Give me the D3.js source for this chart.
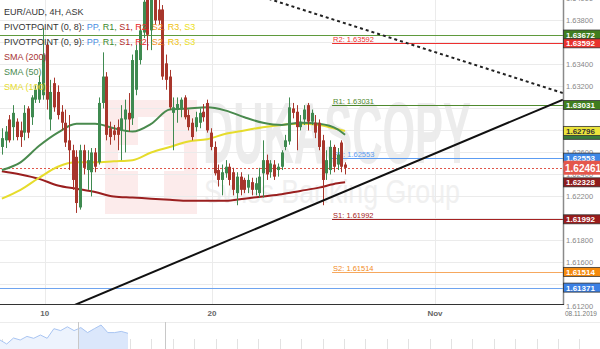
<!DOCTYPE html>
<html>
<head>
<meta charset="utf-8">
<script src="https://cdn.jsdelivr.net/npm/d3@7"></script>
<style>
body { margin: 0; background: #fff; }
svg { display: block; font-family: "Liberation Sans", Arial, sans-serif; }
</style>
</head>
<body>
<script>
// EUR/AUD 4H candles
var opens = [1.6265,1.6271,1.6290,1.6283,1.6288,1.6280,1.6278,1.6300,1.6292,1.6308,
  1.6308,1.6312,1.6358,1.6290,1.6323,1.6315,1.6297,1.6287,1.6271,1.6262,
  1.6256,1.6210,1.6262,1.6244,1.6242,1.6260,1.6251,1.6305,1.6329,1.6282,
  1.6280,1.6283,1.6280,1.6290,1.6296,1.6291,1.6317,1.6344,1.6369,1.6399,
  1.6371,1.6408,1.6390,1.6390,1.6341,1.6329,1.6296,1.6299,1.6299,1.6310,
  1.6294,1.6287,1.6283,1.6287,1.6297,1.6305,1.6278,1.6265,1.6244,1.6235,
  1.6241,1.6247,1.6242,1.6223,1.6238,1.6235,1.6228,1.6233,1.6226,1.6223,
  1.6241,1.6253,1.6242,1.6249,1.6244,1.6247,1.6265,1.6270,1.6300,1.6297,
  1.6283,1.6290,1.6303,1.6288,1.6287,1.6287,1.6271,1.6241,1.6244,1.6265,
  1.6249,1.6269,1.6249];
var highs = [1.6282,1.6284,1.6294,1.6303,1.6291,1.6288,1.6303,1.6302,1.6312,1.6321,
  1.6330,1.6373,1.6360,1.6326,1.6328,1.6321,1.6303,1.6299,1.6294,1.6267,
  1.6262,1.6267,1.6267,1.6262,1.6264,1.6264,1.6310,1.6351,1.6333,1.6288,
  1.6285,1.6290,1.6303,1.6308,1.6314,1.6349,1.6358,1.6376,1.6412,1.6417,
  1.6417,1.6421,1.6399,1.6394,1.6349,1.6335,1.6310,1.6310,1.6310,1.6312,
  1.6299,1.6291,1.6297,1.6300,1.6304,1.6308,1.6282,1.6270,1.6249,1.6249,
  1.6253,1.6250,1.6246,1.6242,1.6242,1.6237,1.6240,1.6237,1.6237,1.6246,
  1.6271,1.6258,1.6253,1.6253,1.6250,1.6262,1.6276,1.6310,1.6305,1.6303,
  1.6294,1.6303,1.6305,1.6299,1.6294,1.6290,1.6276,1.6262,1.6271,1.6267,
  1.6264,1.6271,1.6251];
var lows = [1.6258,1.6264,1.6269,1.6271,1.6271,1.6265,1.6271,1.6273,1.6285,1.6305,
  1.6305,1.6308,1.6299,1.6280,1.6297,1.6290,1.6280,1.6265,1.6244,1.6226,
  1.6205,1.6208,1.6240,1.6226,1.6220,1.6242,1.6249,1.6300,1.6271,1.6267,
  1.6271,1.6262,1.6253,1.6260,1.6279,1.6285,1.6312,1.6340,1.6364,1.6353,
  1.6353,1.6376,1.6376,1.6326,1.6317,1.6299,1.6262,1.6287,1.6292,1.6290,
  1.6280,1.6271,1.6279,1.6282,1.6288,1.6278,1.6262,1.6239,1.6229,1.6221,
  1.6237,1.6230,1.6221,1.6212,1.6221,1.6223,1.6223,1.6221,1.6221,1.6219,
  1.6219,1.6235,1.6237,1.6235,1.6238,1.6244,1.6262,1.6267,1.6291,1.6262,
  1.6280,1.6285,1.6280,1.6285,1.6273,1.6262,1.6212,1.6235,1.6240,1.6242,
  1.6244,1.6242,1.6240];
var closes = [1.6273,1.6279,1.6271,1.6296,1.6274,1.6274,1.6296,1.6278,1.6310,1.6317,
  1.6324,1.6349,1.6308,1.6315,1.6301,1.6294,1.6287,1.6269,1.6262,1.6235,
  1.6214,1.6262,1.6246,1.6253,1.6260,1.6247,1.6305,1.6329,1.6276,1.6274,
  1.6276,1.6276,1.6291,1.6299,1.6290,1.6344,1.6353,1.6371,1.6397,1.6367,
  1.6403,1.6380,1.6380,1.6329,1.6326,1.6301,1.6301,1.6304,1.6308,1.6292,
  1.6283,1.6274,1.6292,1.6296,1.6292,1.6280,1.6265,1.6241,1.6235,1.6242,
  1.6247,1.6235,1.6226,1.6238,1.6226,1.6226,1.6235,1.6226,1.6232,1.6238,
  1.6253,1.6240,1.6250,1.6238,1.6247,1.6260,1.6271,1.6301,1.6296,1.6283,
  1.6288,1.6299,1.6288,1.6296,1.6278,1.6265,1.6235,1.6253,1.6265,1.6247,
  1.6258,1.6247,1.6246];

// moving averages, sampled every 5 candles
var smaIndex = [0,5,10,15,20,25,30,35,40,45,50,55,60,65,70,75,80,85,90,92];
var sma50 = [1.6244,1.6251,1.6266,1.6278,1.6286,1.6286,1.6282,1.6279,1.6286,1.6299,
  1.6300,1.6301,1.6298,1.6292,1.6287,1.6285,1.6287,1.6286,1.6281,1.6276];
var sma100 = [1.6218,1.6226,1.6237,1.6247,1.6251,1.6251,1.6252,1.6253,1.6260,1.6265,
  1.6270,1.6272,1.6277,1.6280,1.6283,1.6285,1.6286,1.6285,1.6281,1.62796];
var sma200 = [1.6243,1.6240,1.6236,1.6230,1.6227,1.6224,1.6220,1.6219,1.6218,1.6217,
  1.6216,1.6216,1.6216,1.6218,1.6220,1.6222,1.6225,1.6228,1.6232,1.62328];

var pivotNames = ['R2', 'R1', 'PP', 'S1', 'S2'];
var pivotValues = [1.63592, 1.63031, 1.62553, 1.61992, 1.61514];
var pivotStart = 88.5;
var levelValues = [1.63672, 1.61371];
var lastPrice = 1.62461;

var trendUp = [[20, 1.6122], [150.4, 1.6308]];
var trendDown = [[88.7, 1.6381], [150.4, 1.6314]];

var dateTicks = [11.5, 56.3, 116.1];
var dateLabels = ['10', '20', 'Nov'];
var endDate = '08.11.2019';

var navValues = [6, 2, 8, 6, 9.6, 7.7, 11, 7.7, 17.3, 15.4, 19.2, 15.4, 18.4, 13.4, 17.3, 21, 13.4, 13.4, 14.6, 12.7];

var width = 600;
var height = 349;
var plotW = 563;
var plotH = 304;

var svg = d3.select('body').append('svg')
  .attr('width', width)
  .attr('height', height);

var x = d3.scaleLinear().domain([-0.5, 150.4]).range([0, plotW]);
var y = d3.scaleLinear().domain([1.61222, 1.63986]).range([plotH, 0]);

svg.append('defs').append('clipPath').attr('id', 'plotclip')
  .append('rect').attr('width', plotW).attr('height', plotH);

svg.append('rect').attr('width', width).attr('height', height).attr('fill', '#fff');

var plot = svg.append('g').attr('clip-path', 'url(#plotclip)');

// watermark
var wm = plot.append('g');
wm.append('rect').attr('x', 105).attr('y', 100).attr('width', 92).attr('height', 114).attr('fill', '#fcebeb');
wm.append('rect').attr('x', 138).attr('y', 117).attr('width', 26).attr('height', 82).attr('fill', '#fff');
wm.append('rect').attr('x', 118).attr('y', 145).attr('width', 66).attr('height', 26).attr('fill', '#fff');
wm.append('text').attr('x', 203).attr('y', 163)
  .attr('font-size', 88).attr('font-weight', 'bold').attr('fill', '#ececec')
  .attr('textLength', 268).attr('lengthAdjust', 'spacingAndGlyphs')
  .text('DUKASCOPY');
wm.append('text').attr('x', 204).attr('y', 203)
  .attr('font-size', 33).attr('fill', '#f0f0f0')
  .attr('textLength', 256).attr('lengthAdjust', 'spacingAndGlyphs')
  .text('Swiss Banking Group');

// grid
var yTicks = d3.range(1.612, 1.6405, 0.002);
plot.selectAll('.hgrid').data(yTicks).enter().append('line')
  .attr('x1', 0).attr('x2', plotW)
  .attr('y1', function(d) { return Math.round(y(d)) + 0.5; })
  .attr('y2', function(d) { return Math.round(y(d)) + 0.5; })
  .attr('stroke', '#ebebeb');
plot.selectAll('.vgrid').data(dateTicks).enter().append('line')
  .attr('x1', function(d) { return Math.round(x(d)) + 0.5; })
  .attr('x2', function(d) { return Math.round(x(d)) + 0.5; })
  .attr('y1', 0).attr('y2', plotH)
  .attr('stroke', '#ebebeb');

// full width levels
var levelColors = ['#5f9a3d', '#6ea4f0'];
plot.selectAll('.level').data(levelValues).enter().append('line')
  .attr('x1', 0).attr('x2', plotW)
  .attr('y1', function(d) { return Math.round(y(d)) + 0.5; })
  .attr('y2', function(d) { return Math.round(y(d)) + 0.5; })
  .attr('stroke', function(d, i) { return levelColors[i]; })
  .attr('stroke-width', 1.2);

// pivot lines
var pivotColors = ['#ee3030', '#4f8a2e', '#5c9cf2', '#a52222', '#f6a85e'];
var pivotText = ['#ee3030', '#4f8a2e', '#5c9cf2', '#a52222', '#f28c1c'];
plot.selectAll('.pivot').data(pivotValues).enter().append('line')
  .attr('x1', x(pivotStart)).attr('x2', plotW)
  .attr('y1', function(d) { return Math.round(y(d)) + 0.5; })
  .attr('y2', function(d) { return Math.round(y(d)) + 0.5; })
  .attr('stroke', function(d, i) { return pivotColors[i]; })
  .attr('stroke-width', 1.2);
plot.selectAll('.pivotlabel').data(pivotValues).enter().append('text')
  .attr('x', x(pivotStart) + 1)
  .attr('y', function(d) { return Math.round(y(d)) - 1; })
  .attr('font-size', 7.5)
  .attr('fill', function(d, i) { return pivotText[i]; })
  .text(function(d, i) { return pivotNames[i] + ': ' + d.toFixed(5); });

// last price dashed line
plot.append('line')
  .attr('x1', 0).attr('x2', plotW)
  .attr('y1', Math.round(y(lastPrice)) + 0.5).attr('y2', Math.round(y(lastPrice)) + 0.5)
  .attr('stroke', '#e0564a').attr('stroke-dasharray', '2,2');

// moving averages
var smaLine = d3.line()
  .x(function(d, i) { return x(smaIndex[i]); })
  .y(function(d) { return y(d); })
  .curve(d3.curveMonotoneX);
var smaSeries = [sma200, sma100, sma50];
var smaColors = ['#9a1f1f', '#e6dc2c', '#4a8a4e'];
plot.selectAll('.sma').data(smaSeries).enter().append('path')
  .attr('d', function(d) { return smaLine(d); })
  .attr('fill', 'none')
  .attr('stroke', function(d, i) { return smaColors[i]; })
  .attr('stroke-width', 2);

// candles
var candles = opens.map(function(o, i) {
  return { i: i, o: o, h: highs[i], l: lows[i], c: closes[i] };
});
var upColor = '#3f8a50';
var downColor = '#a8362c';
var bodyW = 3;
var cg = plot.selectAll('.candle').data(candles).enter().append('g');
cg.append('line')
  .attr('x1', function(d) { return Math.round(x(d.i)) + 0.5; })
  .attr('x2', function(d) { return Math.round(x(d.i)) + 0.5; })
  .attr('y1', function(d) { return y(d.h); })
  .attr('y2', function(d) { return y(d.l); })
  .attr('stroke', function(d) { return d.c >= d.o ? upColor : downColor; })
  .attr('stroke-width', 1);
cg.append('rect')
  .attr('x', function(d) { return Math.round(x(d.i)) - 1; })
  .attr('y', function(d) { return y(Math.max(d.o, d.c)); })
  .attr('width', bodyW)
  .attr('height', function(d) { return Math.max(1, Math.abs(y(d.o) - y(d.c))); })
  .attr('fill', function(d) { return d.c >= d.o ? upColor : downColor; });

// trend lines, extended across the plot
function trendPath(t) {
  var f = d3.scaleLinear().domain([t[0][0], t[1][0]]).range([t[0][1], t[1][1]]);
  var d0 = x.domain()[0], d1 = x.domain()[1];
  return [[x(d0), y(f(d0))], [x(d1), y(f(d1))]];
}
plot.append('path')
  .attr('d', d3.line()(trendPath(trendUp)))
  .attr('stroke', '#111').attr('stroke-width', 2).attr('fill', 'none');
plot.append('path')
  .attr('d', d3.line()(trendPath(trendDown)))
  .attr('stroke', '#222').attr('stroke-width', 2).attr('fill', 'none')
  .attr('stroke-dasharray', '3,3');

// legend
var legend = plot.append('g').attr('font-size', 9);
legend.append('text').attr('x', 4).attr('y', 15).attr('fill', '#333').text('EUR/AUD, 4H, ASK');
var ppNames = ['PP', 'R1', 'S1', 'R2', 'S2', 'R3', 'S3'];
var ppColors = ['#4a90e2', '#3d8a2e', '#b02a2a', '#e82a2a', '#f5901e', '#f0c010', '#ece020'];
['PIVOTPOINT (0, 8): ', 'PIVOTPOINT (0, 9): '].forEach(function(title, k) {
  var t = legend.append('text').attr('x', 4).attr('y', 30 + k * 15).attr('fill', '#333');
  t.append('tspan').text(title);
  ppNames.forEach(function(n, j) {
    t.append('tspan').attr('fill', ppColors[j]).text(n + (j < ppNames.length - 1 ? ', ' : ''));
  });
});
var smaNames = ['SMA (200)', 'SMA (50)', 'SMA (100)'];
var smaLegendColors = ['#a83434', '#4a8a4e', '#e6dc2c'];
legend.selectAll('.smaname').data(smaNames).enter().append('text')
  .attr('x', 4).attr('y', function(d, i) { return 60 + i * 15; })
  .attr('fill', function(d, i) { return smaLegendColors[i]; })
  .text(function(d) { return d; });

// plot frame
svg.append('line').attr('x1', plotW + 0.5).attr('x2', plotW + 0.5).attr('y1', 0).attr('y2', plotH + 1)
  .attr('stroke', '#8a8a8a').attr('stroke-width', 1.5);
svg.append('line').attr('x1', 0).attr('x2', plotW + 1).attr('y1', plotH + 0.5).attr('y2', plotH + 0.5)
  .attr('stroke', '#333').attr('stroke-width', 1.2);

// price tags
var tagValues = [1.63672, 1.63592, 1.63031, sma50[sma50.length - 1], 1.62796, 1.62553, 1.62328, 1.61992, 1.61514, 1.61371];
var tagFill = ['#3f7d1e', '#e8322c', '#3f7d1e', '#3b7a3b', '#ece43c', '#3d87e6', '#8e1c1c', '#9a1c1c', '#f58a0c', '#3b80e4'];
var tagText = ['#fff', '#fff', '#fff', '#fff', '#333', '#fff', '#fff', '#fff', '#fff', '#fff'];

// y axis labels (the ones fully under a tag are not drawn)
var yLabelTicks = yTicks.filter(function(t) {
  return !tagValues.some(function(v) { return Math.abs(y(v) - y(t)) < 3.5; });
});
svg.selectAll('.ylab').data(yLabelTicks).enter().append('text')
  .attr('x', 566).attr('y', function(d) { return y(d) + 3; })
  .attr('font-size', 7.5).attr('fill', '#888')
  .text(function(d) { return d.toFixed(5); });

var tags = svg.selectAll('.tag').data(tagValues).enter().append('g');
tags.append('rect')
  .attr('x', plotW + 0.5).attr('y', function(d) { return y(d) - 4.5; })
  .attr('width', 37).attr('height', 9)
  .attr('fill', function(d, i) { return tagFill[i]; })
  .attr('stroke', '#333').attr('stroke-width', 0.8);
tags.append('text')
  .attr('x', 566).attr('y', function(d) { return y(d) + 3; })
  .attr('font-size', 8).attr('font-weight', 'bold')
  .attr('fill', function(d, i) { return tagText[i]; })
  .text(function(d, i) { return i === 3 ? '' : d.toFixed(5); });

svg.append('rect')
  .attr('x', plotW + 0.5).attr('y', y(lastPrice) - 7)
  .attr('width', 37).attr('height', 14)
  .attr('fill', '#e4574b');
svg.append('text')
  .attr('x', 565).attr('y', y(lastPrice) + 4)
  .attr('font-size', 10).attr('font-weight', 'bold').attr('fill', '#fff')
  .text(lastPrice.toFixed(5));

// date labels
svg.selectAll('.xlab').data(dateTicks).enter().append('text')
  .attr('x', function(d) { return x(d); })
  .attr('y', 316).attr('text-anchor', 'middle')
  .attr('font-size', 8).attr('font-weight', 'bold').attr('fill', '#666')
  .text(function(d, i) { return dateLabels[i]; });
svg.append('text').attr('x', 597).attr('y', 316).attr('text-anchor', 'end')
  .attr('font-size', 6.5).attr('fill', '#777').text(endDate);

// navigator
var navX = d3.scaleLinear().domain([0, navValues.length - 1]).range([0, 128]);
var navY = d3.scaleLinear().domain([0, 24]).range([346, 322]);
svg.append('line').attr('x1', 0).attr('x2', width).attr('y1', 322.5).attr('y2', 322.5).attr('stroke', '#ececec');
var navTicks = d3.range(1.5, width, 21.4);
svg.selectAll('.navtick').data(navTicks).enter().append('line')
  .attr('x1', function(d) { return Math.round(d) + 0.5; })
  .attr('x2', function(d) { return Math.round(d) + 0.5; })
  .attr('y1', 339).attr('y2', height)
  .attr('stroke', '#e2e2e2');
var navArea = d3.area()
  .x(function(d, i) { return navX(i); })
  .y0(height)
  .y1(function(d) { return navY(d); });
svg.append('defs').append('clipPath').attr('id', 'navsel')
  .append('rect').attr('x', 78).attr('y', 300).attr('width', 60).attr('height', 60);
svg.append('path').attr('d', navArea(navValues)).attr('fill', '#edf3fd');
svg.append('path').attr('d', navArea(navValues)).attr('fill', '#dbe7fb').attr('clip-path', 'url(#navsel)');
svg.append('path')
  .attr('d', d3.line().x(function(d, i) { return navX(i); }).y(function(d) { return navY(d); })(navValues))
  .attr('fill', 'none').attr('stroke', '#a9c5f2').attr('stroke-width', 1);
svg.append('line').attr('x1', 78.5).attr('x2', 78.5).attr('y1', 322).attr('y2', height).attr('stroke', '#c8c8c8');
svg.append('line').attr('x1', 165.5).attr('x2', 165.5).attr('y1', 322).attr('y2', height).attr('stroke', '#c8c8c8');
</script>
</body>
</html>
